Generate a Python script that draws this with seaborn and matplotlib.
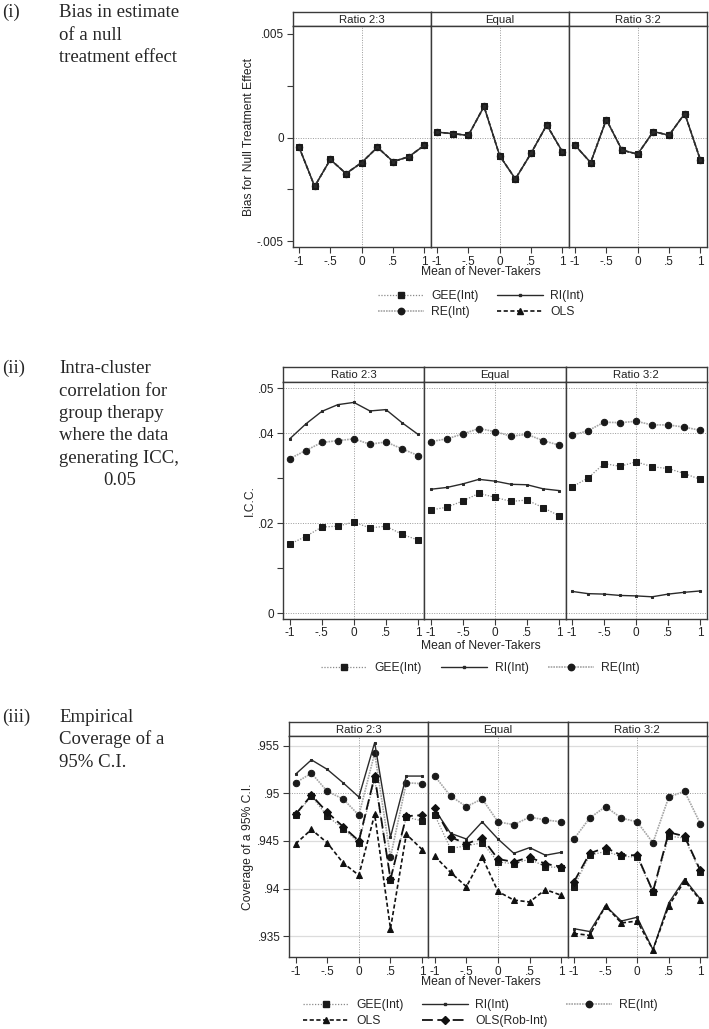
import matplotlib.pyplot as plt
from matplotlib.lines import Line2D
import seaborn as sns

# x positions and facets
x_vals = [-1, -0.75, -0.5, -0.25, 0, 0.25, 0.5, 0.75, 1]
facets = ["Ratio 2:3", "Equal", "Ratio 3:2"]
xtick_vals = [-1, -0.5, 0, 0.5, 1]
xtick_labels = ["-1", "-.5", "0", ".5", "1"]

# (i) bias for a null effect - all estimators give the same point estimate
bias_null = [[-0.00045, -0.00236, -0.00106, -0.00174, -0.00121, -0.00047, -0.00116, -0.00093, -0.00037],
             [0.00026, 0.00019, 0.00010, 0.00150, -0.00088, -0.00200, -0.00076, 0.00061, -0.00069],
             [-0.00037, -0.00121, 0.00087, -0.00061, -0.00080, 0.00029, 0.00011, 0.00116, -0.00109]]

# (ii) intra-cluster correlation
icc_gee = [[0.0154, 0.0171, 0.0192, 0.0194, 0.0203, 0.0190, 0.0194, 0.0176, 0.0163],
           [0.0230, 0.0236, 0.0250, 0.0267, 0.0258, 0.0249, 0.0252, 0.0235, 0.0217],
           [0.0281, 0.0301, 0.0333, 0.0327, 0.0337, 0.0326, 0.0322, 0.0311, 0.0298]]
icc_ri = [[0.0388, 0.0421, 0.0449, 0.0464, 0.0469, 0.0450, 0.0453, 0.0424, 0.0398],
          [0.0276, 0.0280, 0.0288, 0.0298, 0.0294, 0.0287, 0.0286, 0.0277, 0.0273],
          [0.0049, 0.0044, 0.0043, 0.0040, 0.0039, 0.0037, 0.0043, 0.0047, 0.0050]]
icc_re = [[0.0344, 0.0362, 0.0380, 0.0384, 0.0388, 0.0376, 0.0381, 0.0366, 0.0351],
          [0.0382, 0.0388, 0.0399, 0.0411, 0.0404, 0.0394, 0.0398, 0.0384, 0.0374],
          [0.0396, 0.0406, 0.0425, 0.0424, 0.0427, 0.0419, 0.0419, 0.0414, 0.0407]]

# (iii) coverage of a 95% C.I.
cov_gee = [[0.9477, 0.9497, 0.9476, 0.9463, 0.9448, 0.9515, 0.9409, 0.9475, 0.9471],
           [0.9477, 0.9442, 0.9445, 0.9448, 0.9428, 0.9426, 0.9431, 0.9423, 0.9422],
           [0.9402, 0.9435, 0.9439, 0.9434, 0.9433, 0.9396, 0.9455, 0.9453, 0.9417]]
cov_ri = [[0.9520, 0.9535, 0.9525, 0.9511, 0.9496, 0.9553, 0.9454, 0.9518, 0.9518],
          [0.9483, 0.9458, 0.9452, 0.9470, 0.9452, 0.9437, 0.9443, 0.9435, 0.9438],
          [0.9358, 0.9355, 0.9382, 0.9366, 0.9370, 0.9336, 0.9385, 0.9410, 0.9389]]
cov_re = [[0.9511, 0.9521, 0.9502, 0.9494, 0.9477, 0.9542, 0.9433, 0.9511, 0.9510],
          [0.9518, 0.9497, 0.9486, 0.9494, 0.9470, 0.9467, 0.9475, 0.9472, 0.9470],
          [0.9452, 0.9474, 0.9486, 0.9474, 0.9470, 0.9448, 0.9496, 0.9502, 0.9468]]
cov_ols = [[0.9447, 0.9462, 0.9448, 0.9427, 0.9414, 0.9478, 0.9358, 0.9457, 0.9441],
           [0.9434, 0.9417, 0.9402, 0.9433, 0.9397, 0.9388, 0.9386, 0.9399, 0.9393],
           [0.9353, 0.9351, 0.9382, 0.9364, 0.9366, 0.9336, 0.9382, 0.9408, 0.9388]]
cov_ols_rob = [[0.9478, 0.9498, 0.9480, 0.9465, 0.9450, 0.9518, 0.9410, 0.9476, 0.9477],
               [0.9484, 0.9454, 0.9447, 0.9453, 0.9431, 0.9428, 0.9433, 0.9426, 0.9423],
               [0.9407, 0.9437, 0.9443, 0.9435, 0.9435, 0.9397, 0.9459, 0.9455, 0.9419]]

sns.set_style("white")
plt.rcParams['font.family'] = ['Liberation Sans', 'DejaVu Sans']

styles = {
    "GEE(Int)": dict(color="#8a8a8a", linestyle=(0, (1, 1.3)), linewidth=0.9, marker="s",
                     markersize=4.6, markerfacecolor="#1a1a1a", markeredgecolor="#1a1a1a"),
    "RI(Int)": dict(color="#2a2a2a", linestyle="-", linewidth=1.0, marker="s",
                    markersize=1.8, markerfacecolor="#2a2a2a", markeredgecolor="#2a2a2a"),
    "RE(Int)": dict(color="#a5a5a5", linestyle=(0, (1, 0.6)), linewidth=1.2, marker="o",
                    markersize=4.6, markerfacecolor="#1a1a1a", markeredgecolor="#1a1a1a"),
    "OLS": dict(color="#111111", linestyle=(0, (2.5, 1.5)), linewidth=1.2, marker="^",
                markersize=4.8, markerfacecolor="#111111", markeredgecolor="#111111"),
    "OLS(Rob-Int)": dict(color="#111111", linestyle=(0, (6, 2.5)), linewidth=1.3, marker="D",
                         markersize=3.7, markerfacecolor="#111111", markeredgecolor="#111111"),
}

W, H = 709, 1029
fig = plt.figure(figsize=(W / 100, H / 100), dpi=100)
EDGE = "#3a3a3a"
GRIDC = "#9a9a9a"


def box(x0, y0, x1, y1):
    # pixel box measured from the top-left corner -> figure fraction rect
    return [x0 / W, 1 - y1 / H, (x1 - x0) / W, (y1 - y0) / H]


def make_panel(left, right, strip_top, ax_top, ax_bottom, ylim, yticks, yticklabels, xpad=2):
    width = (right - left) / 3
    axes = []
    for i, name in enumerate(facets):
        x0 = left + i * width
        x1 = x0 + width
        sax = fig.add_axes(box(x0, strip_top, x1, ax_top))
        sax.set_xticks([])
        sax.set_yticks([])
        sax.text(0.5, 0.45, name, ha="center", va="center", fontsize=8.2, color="#222222")
        for s in sax.spines.values():
            s.set_color(EDGE)
            s.set_linewidth(1.0)
        ax = fig.add_axes(box(x0, ax_top, x1, ax_bottom))
        ax.set_xlim(-1.1, 1.1)
        ax.set_ylim(*ylim)
        ax.set_xticks(xtick_vals)
        ax.set_xticklabels(xtick_labels)
        ax.set_yticks(yticks)
        if i == 0:
            ax.set_yticklabels(yticklabels)
            ax.tick_params(axis="y", left=True, length=4, width=0.8, color=EDGE,
                           labelsize=8.5, pad=2.5, labelcolor="#222222")
        else:
            ax.tick_params(axis="y", left=False, labelleft=False)
        ax.tick_params(axis="x", bottom=True, length=4, width=0.8, color=EDGE,
                       labelsize=8.5, pad=xpad, labelcolor="#222222")
        for s in ax.spines.values():
            s.set_color(EDGE)
            s.set_linewidth(1.0)
        ax.axvline(0, color=GRIDC, lw=0.7, linestyle=(0, (1, 1.5)), zorder=0.5)
        axes.append(ax)
    return axes


def draw(ax, vals, name):
    sns.lineplot(x=x_vals, y=vals, ax=ax, errorbar=None, **styles[name])
    ax.set_xlabel("")
    ax.set_ylabel("")


def add_legend(names, ncol, cx, cy, colsp):
    handles = [Line2D([], [], **styles[n]) for n in names]
    fig.legend(handles, names, loc="center", bbox_to_anchor=(cx / W, 1 - cy / H),
               ncol=ncol, frameon=False, fontsize=8.7, handlelength=3.8,
               handletextpad=0.6, columnspacing=colsp, labelspacing=0.3,
               borderpad=0, numpoints=1)


def side_text(label, lines, y_first, extra=None):
    fig.text(2 / W, 1 - y_first / H, label, family="Liberation Serif", fontsize=13.5,
             va="baseline", ha="left")
    for k, line in enumerate(lines):
        fig.text(59 / W, 1 - (y_first + 22.5 * k) / H, line, family="Liberation Serif",
                 fontsize=13.5, va="baseline", ha="left")
    if extra is not None:
        fig.text(extra[0] / W, 1 - extra[1] / H, extra[2], family="Liberation Serif",
                 fontsize=13.5, va="baseline", ha="left")


# ---- panel (i)
axs1 = make_panel(292.7, 706.7, 12.3, 25.7, 247.3, (-0.0053, 0.0054),
                  [-0.005, -0.0025, 0, 0.0025, 0.005], ["-.005", "", "0", "", ".005"])
for k, ax in enumerate(axs1):
    ax.axhline(0, color=GRIDC, lw=0.7, linestyle=(0, (1, 1.5)), zorder=0.5)
    for name in ["RE(Int)", "OLS", "GEE(Int)", "RI(Int)"]:
        draw(ax, bias_null[k], name)
fig.text(249 / W, 1 - 136.5 / H, "Bias for Null Treatment Effect", rotation=90,
         ha="center", va="center", fontsize=8.7, color="#222222")
fig.text(481 / W, 1 - 272 / H, "Mean of Never-Takers", ha="center", va="center",
         fontsize=8.7, color="#222222")
add_legend(["GEE(Int)", "RE(Int)", "RI(Int)", "OLS"], 2, 481, 304, 1.55)
side_text("(i)", ["Bias in estimate", "of a null", "treatment effect"], 17)

# ---- panel (ii)
axs2 = make_panel(283.3, 706.7, 366.7, 381.7, 619.3, (-0.0013, 0.0515),
                  [0, 0.01, 0.02, 0.03, 0.04, 0.05], ["0", "", ".02", "", ".04", ".05"], xpad=1.2)
for k, ax in enumerate(axs2):
    for yv in [0, 0.02, 0.04, 0.05]:
        ax.axhline(yv, color=GRIDC, lw=0.7, linestyle=(0, (1, 1.5)), zorder=0.5)
    draw(ax, icc_re[k], "RE(Int)")
    draw(ax, icc_ri[k], "RI(Int)")
    draw(ax, icc_gee[k], "GEE(Int)")
fig.text(250 / W, 1 - 500.5 / H, "I.C.C.", rotation=90, ha="center", va="center",
         fontsize=8.7, color="#222222")
fig.text(481 / W, 1 - 646 / H, "Mean of Never-Takers", ha="center", va="center",
         fontsize=8.7, color="#222222")
add_legend(["GEE(Int)", "RI(Int)", "RE(Int)"], 3, 480.5, 668, 1.6)
side_text("(ii)", ["Intra-cluster", "correlation for", "group therapy", "where the data",
                   "generating ICC,"], 373, extra=(103, 373 + 22.5 * 5, "0.05"))

# ---- panel (iii)
axs3 = make_panel(289.3, 706.7, 721.7, 736, 957.3, (0.9328, 0.9560),
                  [0.935, 0.94, 0.945, 0.95, 0.955], [".935", ".94", ".945", ".95", ".955"])
for k, ax in enumerate(axs3):
    for yv in [0.935, 0.94, 0.945, 0.955]:
        ax.axhline(yv, color="#dcdcdc", lw=0.9, zorder=0.4)
    ax.axhline(0.95, color=GRIDC, lw=0.7, linestyle=(0, (1, 1.5)), zorder=0.5)
    draw(ax, cov_re[k], "RE(Int)")
    draw(ax, cov_ri[k], "RI(Int)")
    draw(ax, cov_ols[k], "OLS")
    draw(ax, cov_gee[k], "GEE(Int)")
    draw(ax, cov_ols_rob[k], "OLS(Rob-Int)")
fig.text(248.5 / W, 1 - 846.5 / H, "Coverage of a 95% C.I.", rotation=90, ha="center",
         va="center", fontsize=8.7, color="#222222")
fig.text(481 / W, 1 - 982 / H, "Mean of Never-Takers", ha="center", va="center",
         fontsize=8.7, color="#222222")
add_legend(["GEE(Int)", "OLS", "RI(Int)", "OLS(Rob-Int)", "RE(Int)"], 3, 480.5, 1013, 1.5)
side_text("(iii)", ["Empirical", "Coverage of a", "95% C.I."], 722)

fig.savefig("out.png", dpi=100, facecolor="white")
